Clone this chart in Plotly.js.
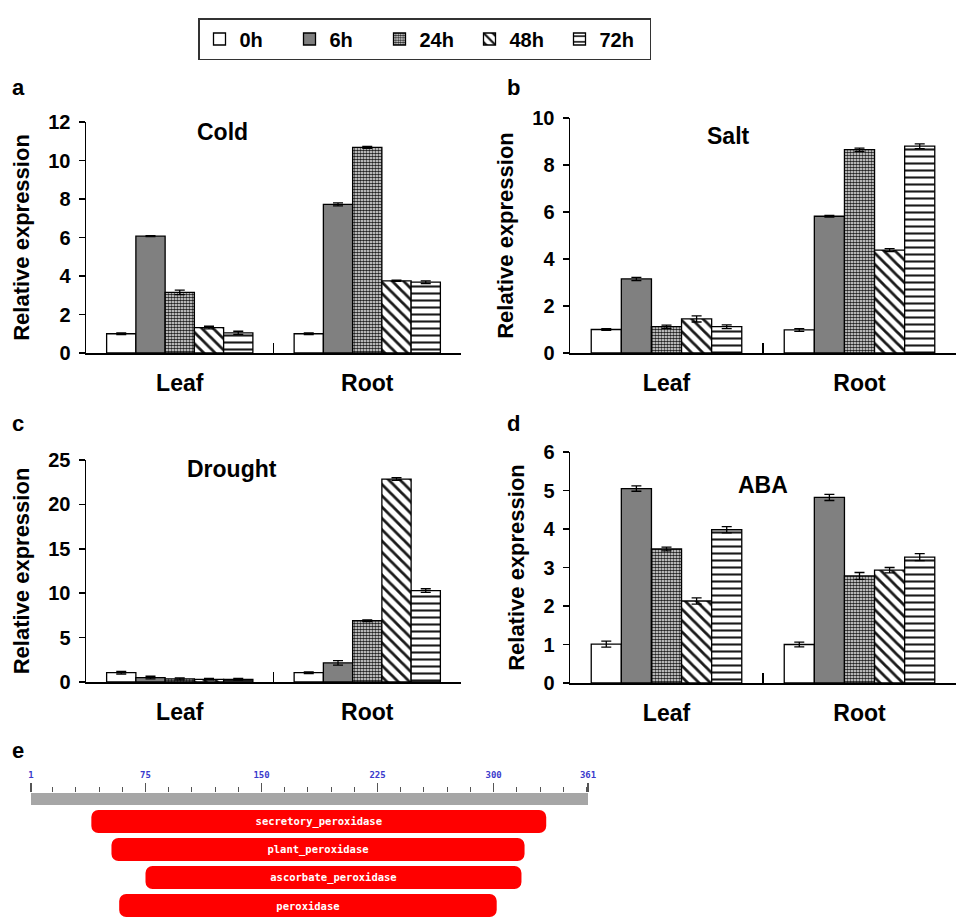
<!DOCTYPE html>
<html>
<head>
<meta charset="utf-8">
<script src="https://cdn.plot.ly/plotly-3.0.1.min.js"></script>
<style>html,body{margin:0;padding:0;background:#fff}#chart{width:962px;height:917px}</style>
</head>
<body>
<div id="chart"></div>
<script>
// ---- data ----
const timepoints = ['0h', '6h', '24h', '48h', '72h'];
const tissues = ['Leaf', 'Root'];

const coldLeaf = [1.0, 6.07, 3.15, 1.32, 1.05];
const coldRoot = [1.0, 7.72, 10.68, 3.75, 3.68];
const coldLeafErr = [0.05, 0.02, 0.12, 0.07, 0.08];
const coldRootErr = [0.05, 0.08, 0.05, 0.03, 0.07];

const saltLeaf = [1.0, 3.15, 1.12, 1.45, 1.12];
const saltRoot = [0.98, 5.82, 8.65, 4.38, 8.8];
const saltLeafErr = [0.04, 0.07, 0.07, 0.13, 0.08];
const saltRootErr = [0.06, 0.04, 0.07, 0.06, 0.1];

const droughtLeaf = [1.05, 0.5, 0.35, 0.3, 0.3];
const droughtRoot = [1.05, 2.15, 6.9, 22.85, 10.3];
const droughtLeafErr = [0.15, 0.15, 0.1, 0.1, 0.1];
const droughtRootErr = [0.1, 0.25, 0.1, 0.15, 0.2];

const abaLeaf = [1.01, 5.05, 3.48, 2.13, 3.98];
const abaRoot = [1.0, 4.82, 2.78, 2.93, 3.27];
const abaLeafErr = [0.08, 0.07, 0.05, 0.08, 0.08];
const abaRootErr = [0.06, 0.08, 0.09, 0.07, 0.09];

const panelTitles = ['Cold', 'Salt', 'Drought', 'ABA'];
const panelLetters = ['a', 'b', 'c', 'd', 'e'];

const proteinLength = 361;
const rulerTicks = [1, 75, 150, 225, 300, 361];
const domainNames = ['secretory_peroxidase', 'plant_peroxidase', 'ascorbate_peroxidase', 'peroxidase'];
const domainStart = [40, 53, 75, 58];
const domainEnd = [334, 320, 318, 302];

// ---- styles ----
const FONT = 'Liberation Sans, Arial, sans-serif';
const patterns = [
  {shape: '', bgcolor: '#ffffff'},
  {shape: '', bgcolor: '#808080'},
  {shape: '.', fgcolor: '#222222', bgcolor: '#ffffff', size: 3, solidity: 0.65, fillmode: 'replace'},
  {shape: '\\', fgcolor: '#1a1a1a', bgcolor: '#ffffff', size: 8, solidity: 0.35, fillmode: 'replace'},
  {shape: '-', fgcolor: '#1a1a1a', bgcolor: '#ffffff', size: 7, solidity: 0.3, fillmode: 'replace'}
];
const fillColors = ['#ffffff', '#808080', '#ffffff', '#ffffff', '#ffffff'];

const panels = [
  {leaf: coldLeaf, root: coldRoot, le: coldLeafErr, re: coldRootErr, xa: 'x', ya: 'y'},
  {leaf: saltLeaf, root: saltRoot, le: saltLeafErr, re: saltRootErr, xa: 'x2', ya: 'y2'},
  {leaf: droughtLeaf, root: droughtRoot, le: droughtLeafErr, re: droughtRootErr, xa: 'x3', ya: 'y3'},
  {leaf: abaLeaf, root: abaRoot, le: abaLeafErr, re: abaRootErr, xa: 'x4', ya: 'y4'}
];

const traces = [];
panels.forEach((p, pi) => {
  timepoints.forEach((tp, ti) => {
    const pat = Object.assign({}, patterns[ti]);
    traces.push({
      type: 'bar',
      name: tp,
      legendgroup: tp,
      showlegend: pi === 0,
      x: tissues,
      y: [p.leaf[ti], p.root[ti]],
      xaxis: p.xa, yaxis: p.ya,
      marker: {color: fillColors[ti], line: {color: '#000', width: 1.3}, pattern: pat},
      error_y: {type: 'data', array: [p.le[ti], p.re[ti]], color: '#000', thickness: 1.3, width: 5},
      hoverinfo: 'skip'
    });
  });
});

// ruler bar
traces.push({
  type: 'bar', orientation: 'h',
  y: ['ruler'], x: [proteinLength - 1], base: [1],
  xaxis: 'x5', yaxis: 'y6', width: 1,
  marker: {color: '#a6a6a6', line: {width: 0}},
  showlegend: false, hoverinfo: 'skip'
});
// domain bars
traces.push({
  type: 'bar', orientation: 'h',
  y: domainNames,
  x: domainEnd.map((e, i) => e - domainStart[i]),
  base: domainStart,
  xaxis: 'x5', yaxis: 'y5', width: 0.82,
  marker: {color: '#ff0000', line: {width: 0}, cornerradius: 7},
  text: domainNames, textposition: 'inside', insidetextanchor: 'middle',
  textangle: 0, constraintext: 'none',
  textfont: {color: '#ffffff', family: 'DejaVu Sans Mono, monospace', size: 10.5, weight: 'bold'},
  showlegend: false, hoverinfo: 'skip'
});

const W = 962, H = 917;
const px = v => v / W;
const py = v => 1 - v / H;

function xAxis(d0, d1, anchor) {
  return {
    domain: [px(d0), px(d1)], anchor: anchor, type: 'category',
    showline: true, linecolor: '#000', linewidth: 1.5,
    ticks: 'inside', tickson: 'boundaries', ticklen: 10, tickwidth: 1.5, tickcolor: '#000',
    tickfont: {family: FONT, size: 23, color: '#000', weight: 'bold'},
    ticklabelstandoff: 9,
    showgrid: false, zeroline: false, fixedrange: true
  };
}
function yAxis(top, bottom, range, dtick, anchor) {
  return {
    domain: [py(bottom), py(top)], anchor: anchor, range: range, dtick: dtick,
    showline: true, linecolor: '#000', linewidth: 1.5,
    ticks: 'outside', ticklen: 6, tickwidth: 1.5, tickcolor: '#000',
    tickfont: {family: FONT, size: 20, color: '#000', weight: 'bold'},
    ticklabelstandoff: 4,
    title: {text: 'Relative expression', font: {family: FONT, size: 22, color: '#000', weight: 'bold'}, standoff: 12},
    showgrid: false, zeroline: false, fixedrange: true
  };
}

const annFont = {family: FONT, size: 22, color: '#000', weight: 'bold'};
const titleFont = {family: FONT, size: 23, color: '#000', weight: 'bold'};
const titlePos = [[222, 132], [728, 136], [232, 469], [763, 485]];
const letterPos = [[18, 88], [513, 88], [18, 423], [513, 423], [18, 750]];
const annotations = [];
panelTitles.forEach((t, i) => annotations.push({
  text: t, xref: 'paper', yref: 'paper', x: px(titlePos[i][0]), y: py(titlePos[i][1]),
  xanchor: 'center', yanchor: 'middle', showarrow: false, font: titleFont
}));
panelLetters.forEach((t, i) => annotations.push({
  text: t, xref: 'paper', yref: 'paper', x: px(letterPos[i][0]), y: py(letterPos[i][1]),
  xanchor: 'center', yanchor: 'middle', showarrow: false, font: annFont
}));

const layout = {
  width: W, height: H,
  margin: {l: 0, r: 0, t: 0, b: 0},
  paper_bgcolor: '#fff', plot_bgcolor: 'rgba(0,0,0,0)',
  font: {family: FONT, color: '#000'},
  barmode: 'group', bargap: 0.22, bargroupgap: 0,
  hovermode: false,
  showlegend: true,
  legend: {
    orientation: 'h', x: px(198), y: py(18), xanchor: 'left', yanchor: 'top',
    bordercolor: '#333', borderwidth: 1.5, bgcolor: '#fff',
    font: {family: FONT, size: 20, color: '#000', weight: 'bold'},
    entrywidth: 45, entrywidthmode: 'pixels',
    itemwidth: 30, traceorder: 'normal', itemclick: false, itemdoubleclick: false
  },
  xaxis: xAxis(86, 461, 'y'),
  yaxis: yAxis(122, 353, [0, 12], 2, 'x'),
  xaxis2: xAxis(570, 956, 'y2'),
  yaxis2: yAxis(118, 353, [0, 10], 2, 'x2'),
  xaxis3: xAxis(86, 461, 'y3'),
  yaxis3: yAxis(460, 682, [0, 25], 5, 'x3'),
  xaxis4: xAxis(570, 956, 'y4'),
  yaxis4: yAxis(452, 683, [0, 6], 1, 'x4'),
  xaxis5: {
    domain: [px(31), px(588)], anchor: 'y6', side: 'top', range: [1, proteinLength],
    tickmode: 'array', tickvals: rulerTicks, ticks: 'outside', ticklen: 9, tickwidth: 1.2, tickcolor: '#555',
    tickfont: {family: 'DejaVu Sans Mono, monospace', size: 9, color: '#3a3acc', weight: 'bold'},
    ticklabelstandoff: 1,
    minor: {dtick: 15, tick0: 0, ticks: 'outside', ticklen: 5, tickwidth: 1, tickcolor: '#555'},
    showline: false, showgrid: false, zeroline: false, fixedrange: true
  },
  yaxis6: {domain: [py(805), py(793)], anchor: 'x5', range: [-0.5, 0.5], visible: false, type: 'category', fixedrange: true},
  yaxis5: {domain: [0, py(807.5)], anchor: 'x5', type: 'category', categoryarray: domainNames, categoryorder: 'array',
           range: [3.41, -0.5], visible: false, fixedrange: true},
  annotations: annotations
};

Plotly.newPlot('chart', traces, layout, {staticPlot: true, displayModeBar: false});
</script>
</body>
</html>
